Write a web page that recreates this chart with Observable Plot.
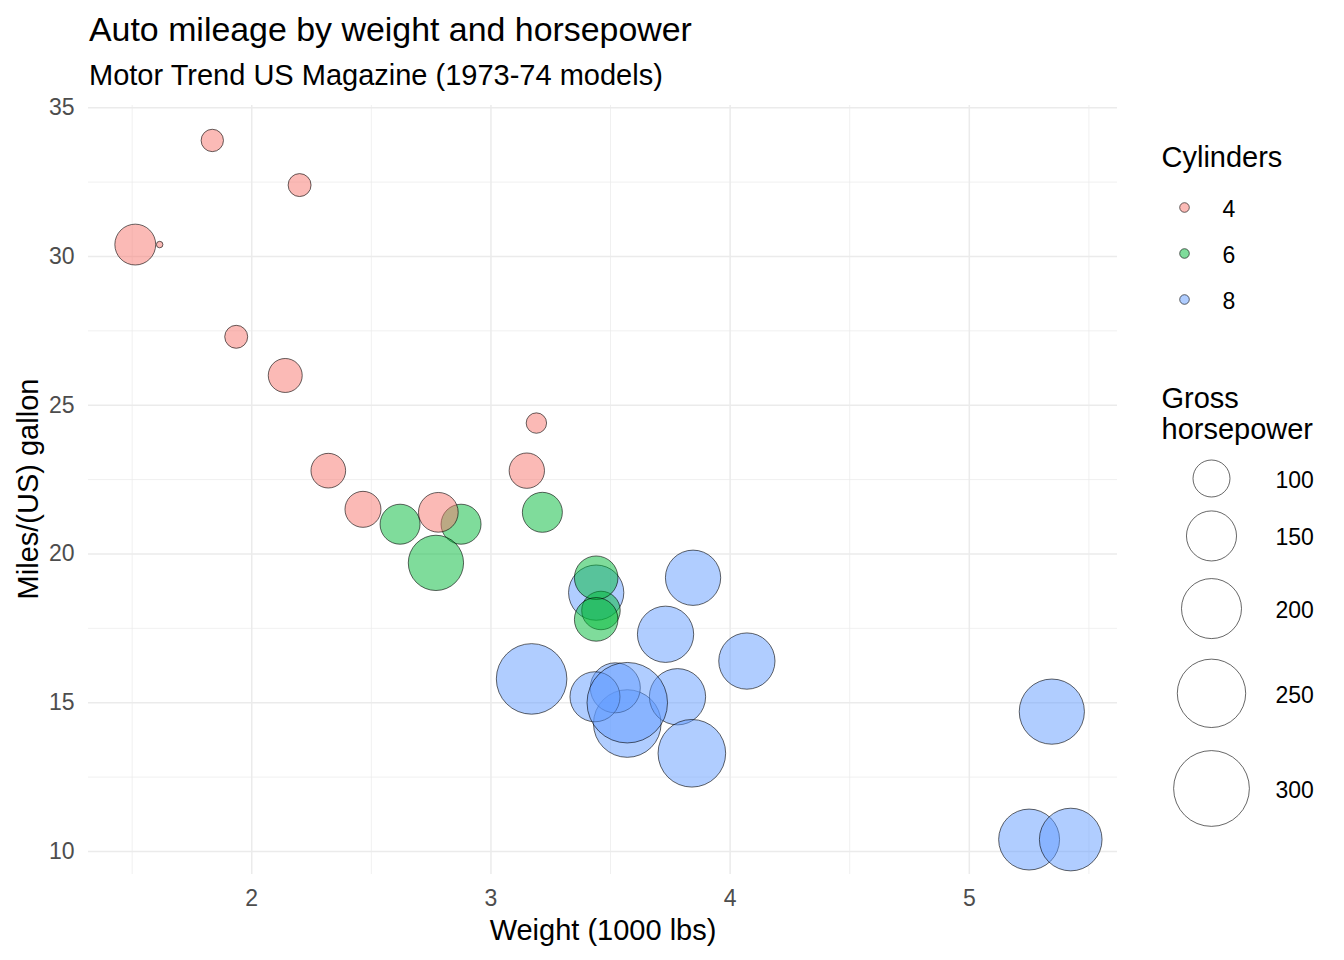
<!DOCTYPE html>
<html>
<head>
<meta charset="utf-8">
<script src="https://cdn.jsdelivr.net/npm/d3@7"></script>
<script src="https://cdn.jsdelivr.net/npm/@observablehq/plot@0.6"></script>
<style>
  html, body { margin: 0; padding: 0; background: white; }
  #wrap { position: relative; width: 1344px; height: 960px; font-family: "Liberation Sans", Arial, sans-serif; }
  .ttl { position: absolute; left: 89px; white-space: nowrap; line-height: 1; color: #000; }
  #title { top: 13px; font-size: 33.9px; }
  #subtitle { top: 61px; font-size: 29px; }
  #wrap svg { position: absolute; top: 0; left: 0; }
</style>
</head>
<body>
<div id="wrap">
  <div id="title" class="ttl">Auto mileage by weight and horsepower</div>
  <div id="subtitle" class="ttl">Motor Trend US Magazine (1973-74 models)</div>
</div>
<script>
// mtcars (data order)
const wt  = [2.620, 2.875, 2.320, 3.215, 3.440, 3.460, 3.570, 3.190, 3.150, 3.440, 3.440, 4.070, 3.730, 3.780, 5.250, 5.424, 5.345, 2.200, 1.615, 1.835, 2.465, 3.520, 3.435, 3.840, 3.845, 1.935, 2.140, 1.513, 3.170, 2.770, 3.570, 2.780];
const mpg = [21.0, 21.0, 22.8, 21.4, 18.7, 18.1, 14.3, 24.4, 22.8, 19.2, 17.8, 16.4, 17.3, 15.2, 10.4, 10.4, 14.7, 32.4, 30.4, 33.9, 21.5, 15.5, 15.2, 13.3, 19.2, 27.3, 26.0, 30.4, 15.8, 19.7, 15.0, 21.4];
const hp  = [110, 110, 93, 110, 175, 105, 245, 62, 95, 123, 123, 180, 180, 180, 205, 215, 230, 66, 52, 65, 97, 150, 150, 245, 175, 66, 91, 113, 264, 175, 335, 109];
const cyl = [6, 6, 4, 6, 8, 6, 8, 4, 4, 6, 6, 8, 8, 8, 8, 8, 8, 4, 4, 4, 4, 8, 8, 8, 8, 4, 4, 4, 8, 6, 8, 4];

const cylLevels = ["4", "6", "8"];
const cylColors = ["#F8766D", "#00BA38", "#619CFF"];
const hpBreaks = [100, 150, 200, 250, 300];
const xMajor = [2, 3, 4, 5];
const xMinor = [1.5, 2.5, 3.5, 4.5, 5.5];
const yMajor = [10, 15, 20, 25, 30, 35];
const yMinor = [12.5, 17.5, 22.5, 27.5, 32.5];
const xTitle = "Weight (1000 lbs)";
const yTitle = "Miles/(US) gallon";

const data = wt.map((w, i) => ({wt: w, mpg: mpg[i], hp: hp[i], cyl: String(cyl[i])}));

const hpMin = d3.min(hp), hpMax = d3.max(hp);
const xr = d3.extent(wt), yr = d3.extent(mpg);
const xPad = (xr[1] - xr[0]) * 0.05, yPad = (yr[1] - yr[0]) * 0.05;

const rOpts = {type: "sqrt", transform: v => v - hpMin, domain: [0, hpMax - hpMin], range: [3.25, 40.25]};
const colorOpts = {domain: cylLevels, range: cylColors};
const font = "'Liberation Sans', Arial, sans-serif";

const main = Plot.plot({
  width: 1344, height: 960,
  marginTop: 105, marginRight: 227, marginBottom: 86, marginLeft: 88,
  style: {fontFamily: font, fontSize: "23px", color: "#4D4D4D", background: "white", overflow: "visible"},
  x: {domain: [xr[0] - xPad, xr[1] + xPad]},
  y: {domain: [yr[0] - yPad, yr[1] + yPad]},
  r: rOpts,
  color: colorOpts,
  marks: [
    Plot.gridX(xMinor, {stroke: "#EBEBEB", strokeOpacity: 1, strokeWidth: 0.75}),
    Plot.gridY(yMinor, {stroke: "#EBEBEB", strokeOpacity: 1, strokeWidth: 0.75}),
    Plot.gridX(xMajor, {stroke: "#EBEBEB", strokeOpacity: 1, strokeWidth: 1.5}),
    Plot.gridY(yMajor, {stroke: "#EBEBEB", strokeOpacity: 1, strokeWidth: 1.5}),
    Plot.axisX(xMajor, {tickSize: 0, tickPadding: 15, label: null, fontSize: 23, tickFormat: d3.format("~g")}),
    Plot.axisY(yMajor, {tickSize: 0, tickPadding: 14, label: null, fontSize: 23, tickFormat: d3.format("~g")}),
    Plot.dot(data, {x: "wt", y: "mpg", r: "hp", fill: "cyl", fillOpacity: 0.5, stroke: "black", strokeWidth: 0.6, sort: null}),
    Plot.text([xTitle], {frameAnchor: "bottom", lineAnchor: "middle", textAnchor: "middle", dy: 56, text: d => d, fill: "black", fontSize: 29}),
    Plot.text([yTitle], {frameAnchor: "left", lineAnchor: "middle", textAnchor: "middle", dx: -60, dy: -1, rotate: -90, text: d => d, fill: "black", fontSize: 29})
  ]
});

// legend layout (pixel positions of legend keys)
const rs = d3.scaleSqrt().domain(rOpts.domain).range(rOpts.range);
const diam = v => 2 * rs(v - hpMin);
let cy = 478;
const hpLeg = hpBreaks.map((v, i) => {
  if (i > 0) cy += 0.66 * (diam(hpBreaks[i - 1]) + diam(v));
  return {hp: v, x: 1211, y: cy, lx: 1275, label: String(v)};
});
const cylLeg = cylLevels.map((c, i) => ({cyl: c, x: 1184, y: 207 + 46 * i, lx: 1222}));
const legTitles = [
  {text: "Cylinders", x: 1161, y: 157},
  {text: "Gross", x: 1161, y: 398},
  {text: "horsepower", x: 1161, y: 429}
];

const legend = Plot.plot({
  width: 1344, height: 960, margin: 0,
  style: {fontFamily: font, fontSize: "23px", color: "black", background: "none", overflow: "visible"},
  x: {type: "identity", axis: null},
  y: {type: "identity", axis: null},
  r: rOpts,
  color: colorOpts,
  marks: [
    Plot.text(legTitles, {x: "x", y: "y", text: "text", textAnchor: "start", fontSize: 29, fill: "black"}),
    Plot.dot(cylLeg, {x: "x", y: "y", r: 4.8, fill: "cyl", fillOpacity: 0.5, stroke: "black", strokeWidth: 0.6}),
    Plot.text(cylLeg, {x: "lx", y: "y", dy: 2, text: "cyl", textAnchor: "start", fontSize: 23, fill: "black"}),
    Plot.dot(hpLeg, {x: "x", y: "y", r: "hp", fill: "none", stroke: "black", strokeWidth: 0.6, sort: null}),
    Plot.text(hpLeg, {x: "lx", y: "y", dy: 2, text: "label", textAnchor: "start", fontSize: 23, fill: "black"})
  ]
});

const wrap = document.getElementById("wrap");
wrap.insertBefore(main, wrap.firstChild);
wrap.appendChild(legend);
</script>
</body>
</html>
